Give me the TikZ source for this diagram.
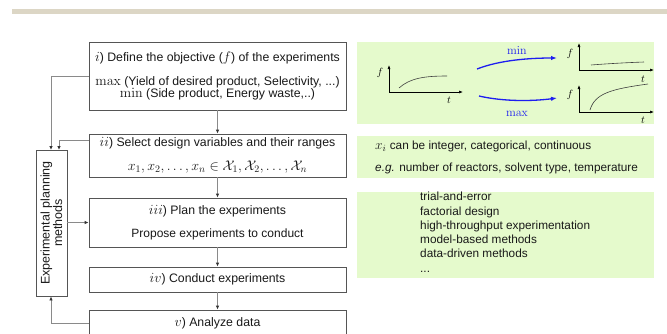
\RequirePackage{fix-cm}
\documentclass[tikz,border=0pt]{standalone}
\usepackage[no-math]{fontspec}
\setmainfont{Liberation Sans}
\usetikzlibrary{arrows.meta,calc}
\DeclareMathSizes{12.3}{14}{10}{7}
\DeclareMathSizes{11.8}{13.5}{9.5}{7}
\definecolor{barc}{HTML}{DCD6C5}
\definecolor{panelc}{HTML}{E5FACC}
\definecolor{linec}{HTML}{8A8A8A}
\definecolor{boxc}{HTML}{555555}
\definecolor{bluec}{HTML}{1E1EF0}
\tikzset{
  stepbox/.style={draw=boxc, line width=0.8pt, fill=white, minimum width=257pt, align=center, inner sep=0pt, text=black!90,
    font=\fontsize{12.3}{12.5}\selectfont},
  conn/.style={draw=linec, line width=0.9pt, -{Latex[length=4pt,width=3.5pt,color=black!80]}},
  panel/.style={fill=panelc, draw=none},
  axis/.style={line width=0.6pt, -{Latex[length=4pt,width=3pt]}},
  curve/.style={line width=0.6pt, draw=black!75},
  barrow/.style={bluec, line width=1.3pt, -{Latex[length=6pt,width=4.5pt]}},
  ptext/.style={font=\fontsize{11.8}{14.3}\selectfont, text=black!90, inner sep=0pt, align=left},
  lab/.style={font=\fontsize{10.5}{11}\selectfont, inner sep=0pt}
}
\begin{document}
\begin{tikzpicture}[x=1pt,y=-1pt]
\useasboundingbox (0,0) rectangle (667,333);
\clip (0,0) rectangle (667,333);
\fill[barc] (12,9) rectangle (667,14);

% left column boxes
\node[stepbox, minimum height=68pt] (s1) at (217.5,76)
  {$i$) Define the objective ($f$) of the experiments\\[11pt]
   $\max$ (Yield of desired product, Selectivity, ...)\\
   $\min$ (Side product, Energy waste,..)};
\node[stepbox, minimum height=43pt] (s2) at (217.5,155.5)
  {$ii$) Select design variables and their ranges\\[11pt]
   $x_1,x_2,\ldots,x_n\in\mathcal{X}_1,\mathcal{X}_2,\ldots,\mathcal{X}_n$};
\node[stepbox, minimum height=49pt] (s3) at (217.5,222.5)
  {$iii$) Plan the experiments\\[10.5pt]
   {\fontsize{12}{12.5}\selectfont Propose experiments to conduct}};
\node[stepbox, minimum height=25pt] (s4) at (217.5,279.5)
  {$iv$) Conduct experiments};
\node[stepbox, minimum height=26pt] (s5) at (217.5,323)
  {$v$) Analyze data};

\node[draw=boxc, line width=0.8pt, minimum width=31pt, minimum height=146pt, inner sep=0pt] (lp) at (51.5,223) {};
\node[rotate=90, align=center, inner sep=0pt, font=\fontsize{12.5}{12.5}\selectfont, text=black!90] (lpt) at (lp.center)
  {Experimental planning\\methods};

% vertical arrows
\draw[conn] (s1) -- (s2);
\draw[conn] (s2) -- (s3);
\draw[conn] (s3) -- (s4);
\draw[conn] (s4) -- (s5);

% feedback connectors
\coordinate (k1) at (51,150);
\coordinate (k2) at (59,150);
\draw[conn] (s1.west) -| (k1);
\draw[conn] ($(s2.north west)+(0,7)$) -| (k2);
\draw[conn] (lp.east |- s3.west) -- (s3.west);
\draw[conn] (s5.west) -| (k1 |- lp.south);

% right panels
\fill[panel] (357,42) rectangle (654,124);
\fill[panel] (357,136) rectangle (654,178);
\fill[panel] (357,192) rectangle (654,278);

% plot 1
\draw[axis] (389,92) -- (389,65);
\draw[axis] (389,92) -- (463,92);
\node[lab] (f1) at (380,73) {$f$};
\node[lab] (t1) at (449,100) {$t$};
\draw[curve] (399,88) .. controls (410,78) and (425,76) .. (447,76);
% plot 2
\draw[axis] (579,70) -- (579,43);
\draw[axis] (579,70) -- (654,70);
\node[lab] (f2) at (570,54) {$f$};
\node[lab] (t2) at (643,79) {$t$};
\draw[curve] (591,65) .. controls (610,63.5) and (630,62.5) .. (644,62);
% plot 3
\draw[axis] (579,112) -- (579,85);
\draw[axis] (579,112) -- (654,112);
\node[lab] (f3) at (570,95) {$f$};
\node[lab] (t3) at (643,120) {$t$};
\draw[curve] (590,110) .. controls (595,93) and (612,89) .. (648,84);

% min / max arrows
\coordinate (m1) at (477,69);
\coordinate (m2) at (557,58);
\coordinate (x1) at (479,96);
\coordinate (x2) at (557,98);
\draw[barrow] (m1) .. controls (500,60) and (530,58) .. (m2);
\draw[barrow] (x1) .. controls (505,102) and (535,101) .. (x2);
\node[bluec, font=\fontsize{12}{12}\selectfont, inner sep=0pt] (minl) at (517,51) {$\mathrm{min}$};
\node[bluec, font=\fontsize{12}{12}\selectfont, inner sep=0pt] (maxl) at (517,114) {$\mathrm{max}$};

% panel 2 text
\node[ptext, anchor=west] (p2a) at (375,146) {$x_i$ can be integer, categorical, continuous};
\node[ptext, anchor=west] (p2b) at (375,168) {\textit{e.g.} number of reactors, solvent type, temperature};

% panel 3 text
\node[ptext, anchor=north west] (p3) at (420,192)
  {trial-and-error\\factorial design\\high-throughput experimentation\\model-based methods\\data-driven methods\\...};
\end{tikzpicture}
\end{document}
